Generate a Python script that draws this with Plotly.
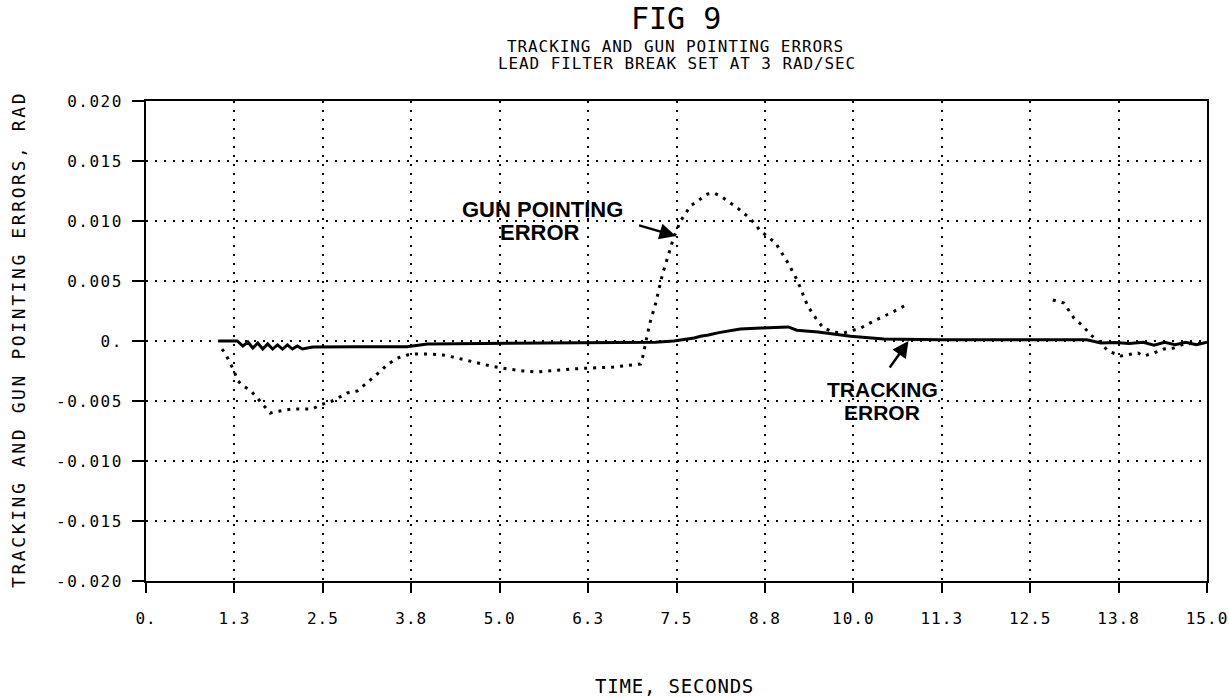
import plotly.graph_objects as go

# ---- data ----
time_track = [1.02, 1.29, 1.37, 1.44, 1.51, 1.58, 1.65, 1.72, 1.79, 1.86, 1.93, 2.00, 2.07, 2.14,
              2.21, 2.36, 3.00, 3.69, 3.98, 5.60, 6.99, 7.20, 7.46, 7.60, 7.75, 7.84, 7.95, 8.10,
              8.40, 8.70, 9.08, 9.20, 9.30, 9.40, 9.50, 9.96, 10.43, 11.23, 13.30, 13.50, 13.70,
              13.90, 14.10, 14.25, 14.40, 14.55, 14.70, 14.85, 15.00]
track_err = [0.0, 0.0, -0.00042, -0.00008, -0.00058, -0.00017, -0.00067, -0.00025, -0.00067,
             -0.00033, -0.00067, -0.00033, -0.00067, -0.00042, -0.00067, -0.0005, -0.00047,
             -0.00047, -0.00025, -0.00017, -0.0001, -0.0001, 0.0, 0.0001, 0.00025, 0.0004,
             0.0005, 0.0007, 0.001, 0.00108, 0.00117, 0.0009, 0.00085, 0.0008, 0.00075, 0.0004,
             0.00017, 0.0001, 0.0001, -0.00017, -0.00012, -0.0002, -0.0001, -0.00035, -0.0001,
             -0.0003, -0.0001, -0.0003, -0.0001]

time_gun = [1.075, 1.118, 1.231, 1.302, 1.373, 1.472, 1.585, 1.755, 1.896, 2.066, 2.349, 2.462,
            2.632, 2.844, 2.986, 3.127, 3.269, 3.425, 3.552, 3.693, 3.807, 4.019, 4.203, 4.401,
            4.585, 4.868, 5.108, 5.335, 5.533, 5.675, 6.042, 6.283, 6.608, 6.991, 7.019, 7.09,
            7.132, 7.203, 7.302, 7.373, 7.458, 7.557, 7.656, 7.698, 7.939, 8.024, 8.123, 8.363,
            8.547, 8.689, 8.901, 9.085, 9.212, 9.354, 9.495, 9.58, 9.722, 9.863, 9.962, 10.104,
            10.288, 10.528, 10.769, None, 12.821, 12.976, 13.118, 13.245, 13.358, 13.5, 13.599,
            13.783, 14.024, 14.108, 14.25, 14.392, 14.533, 14.675, 14.915]
gun_err = [-0.00067, -0.001, -0.00233, -0.00333, -0.00375, -0.00408, -0.00483, -0.006, -0.00583,
           -0.00567, -0.00567, -0.00533, -0.005, -0.00433, -0.00417, -0.0035, -0.00275, -0.00192,
           -0.00142, -0.00117, -0.00108, -0.00108, -0.00117, -0.00142, -0.00167, -0.00208,
           -0.00233, -0.0025, -0.00258, -0.0025, -0.00233, -0.00225, -0.00217, -0.00192,
           -0.00142, 0.00058, 0.00167, 0.00308, 0.00558, 0.00692, 0.00858, 0.01, 0.01083,
           0.01125, 0.01225, 0.01233, 0.01208, 0.01108, 0.01017, 0.00917, 0.00817, 0.00642,
           0.005, 0.00292, 0.00167, 0.00108, 0.00075, 0.00067, 0.00083, 0.00108, 0.00167,
           0.00233, 0.00308, None, 0.00342, 0.00317, 0.00192, 0.00125, 0.0005, -0.00017,
           -0.00083, -0.00125, -0.001, -0.00125, -0.001, -0.00067, -0.00058, -0.00025, -0.00017]

x_tick_vals = [0, 1.25, 2.5, 3.75, 5.0, 6.25, 7.5, 8.75, 10.0, 11.25, 12.5, 13.75, 15.0]
x_tick_text = ["0.", "1.3", "2.5", "3.8", "5.0", "6.3", "7.5", "8.8", "10.0", "11.3", "12.5",
               "13.8", "15.0"]
y_tick_vals = [0.020, 0.015, 0.010, 0.005, 0.0, -0.005, -0.010, -0.015, -0.020]
y_tick_text = ["0.020", "0.015", "0.010", "0.005", "0.", "-0.005", "-0.010", "-0.015", "-0.020"]

MONO = "DejaVu Sans Mono"
SANS = "Liberation Sans"


def spaced(t, px):
    return f'<span style="letter-spacing:{px}px">{t}</span>'


fig = go.Figure()
fig.add_trace(go.Scatter(x=time_gun, y=gun_err, mode="lines", connectgaps=False,
                         line=dict(color="black", width=3, dash="3px,6px"),
                         name="Gun pointing error", showlegend=False))
fig.add_trace(go.Scatter(x=time_track, y=track_err, mode="lines",
                         line=dict(color="black", width=3),
                         name="Tracking error", showlegend=False))

fig.update_layout(
    width=1229, height=698,
    margin=dict(l=146, r=22, t=101, b=117),
    paper_bgcolor="white", plot_bgcolor="white",
    font=dict(family=MONO, color="black", size=16),
)
fig.update_xaxes(
    range=[0, 15], tickvals=x_tick_vals, ticktext=[spaced(t, 1.0) for t in x_tick_text],
    showline=True, linecolor="black", linewidth=2, mirror=True,
    ticks="outside", ticklen=10, tickwidth=2, tickcolor="black",
    showgrid=True, gridcolor="black", gridwidth=1.5, griddash="2px,7px",
    zeroline=False, tickfont=dict(family=MONO, size=16), ticklabelstandoff=12,
    automargin=False,
)
fig.update_yaxes(
    range=[-0.020, 0.020], tickvals=y_tick_vals, ticktext=[spaced(t, 1.5) for t in y_tick_text],
    showline=True, linecolor="black", linewidth=2, mirror=True,
    ticks="outside", ticklen=12, tickwidth=2, tickcolor="black",
    showgrid=True, gridcolor="black", gridwidth=1.5, griddash="2px,7px",
    zeroline=False, tickfont=dict(family=MONO, size=16), ticklabelstandoff=6,
    automargin=False,
)


def px_x(p):  # paper x from pixel
    return (p - 146) / 1061.0


def px_y(p):  # paper y from pixel
    return (581 - p) / 480.0


ann = []
ann.append(dict(text="FIG 9", xref="paper", yref="paper", x=px_x(676), y=px_y(19),
                showarrow=False, font=dict(family=MONO, size=30),
                xanchor="center", yanchor="middle"))
ann.append(dict(text=spaced("TRACKING AND GUN POINTING ERRORS", 0.9), xref="paper", yref="paper",
                x=px_x(675), y=px_y(46), showarrow=False, font=dict(family=MONO, size=16),
                xanchor="center", yanchor="middle"))
ann.append(dict(text=spaced("LEAD FILTER BREAK SET AT 3 RAD/SEC", 0.9), xref="paper",
                yref="paper", x=px_x(677), y=px_y(64), showarrow=False,
                font=dict(family=MONO, size=16), xanchor="center", yanchor="middle"))
ann.append(dict(text=spaced("TIME, SECONDS", 0.8), xref="paper", yref="paper", x=px_x(674),
                y=px_y(686), showarrow=False, font=dict(family=MONO, size=19),
                xanchor="center", yanchor="middle"))
ann.append(dict(text=spaced("TRACKING AND GUN POINTING ERRORS, RAD", 2.6), xref="paper",
                yref="paper", x=px_x(18), y=px_y(340), showarrow=False, textangle=-90,
                font=dict(family=MONO, size=18), xanchor="center", yanchor="middle"))
# labels with arrows
ann.append(dict(text="<b>GUN POINTING</b>", x=5.604, y=0.01092, xref="x", yref="y",
                showarrow=False, font=dict(family=SANS, size=22)))
ann.append(dict(text="<b>ERROR</b>", x=5.575, y=0.00908, xref="x", yref="y",
                showarrow=False, font=dict(family=SANS, size=22)))
ann.append(dict(text="", x=7.49, y=0.00875, xref="x", yref="y", ax=6.95, ay=0.00967,
                axref="x", ayref="y", showarrow=True, arrowhead=2, arrowsize=1.3,
                arrowwidth=2.5, arrowcolor="black"))
ann.append(dict(text="<b>TRACKING</b>", x=10.415, y=-0.0040, xref="x", yref="y",
                showarrow=False, font=dict(family=SANS, size=21)))
ann.append(dict(text="<b>ERROR</b>", x=10.40, y=-0.00592, xref="x", yref="y",
                showarrow=False, font=dict(family=SANS, size=21)))
ann.append(dict(text="", x=10.78, y=0.0, xref="x", yref="y", ax=10.50, ay=-0.00233,
                axref="x", ayref="y", showarrow=True, arrowhead=2, arrowsize=1.3,
                arrowwidth=2.5, arrowcolor="black"))
fig.update_layout(annotations=ann)

fig.write_html("out.html", config={"displayModeBar": False},
               post_script="document.body.style.margin='0px';")
